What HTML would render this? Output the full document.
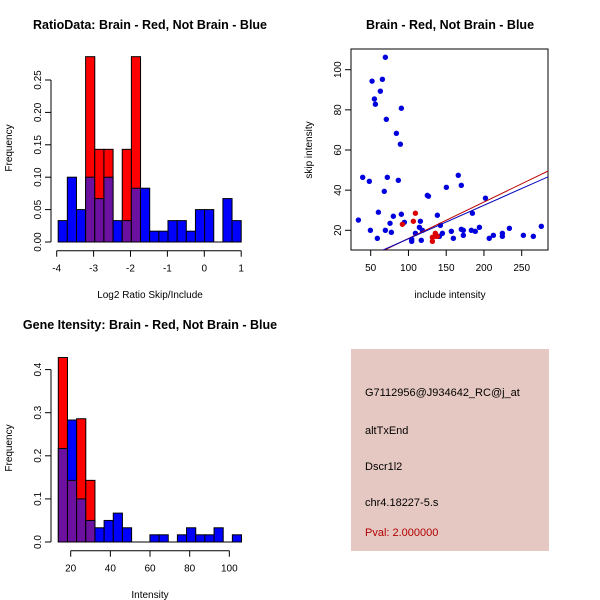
<!DOCTYPE html>
<html><head><meta charset="utf-8"><style>
body{margin:0;background:#fff}
svg{display:block;font-family:"Liberation Sans",sans-serif}
</style></head><body>
<svg id="s" width="600" height="600" xmlns="http://www.w3.org/2000/svg">
<rect width="600" height="600" fill="#fff"/>
<text x="150" y="29" text-anchor="middle" font-size="12.5" font-weight="bold">RatioData: Brain - Red, Not Brain - Blue</text>
<text x="450" y="29" text-anchor="middle" font-size="12.5" font-weight="bold">Brain - Red, Not Brain - Blue</text>
<text x="150" y="329" text-anchor="middle" font-size="12.5" font-weight="bold">Gene Itensity: Brain - Red, Not Brain - Blue</text>
<text x="150" y="298" text-anchor="middle" font-size="10">Log2 Ratio Skip/Include</text>
<text x="450" y="298" text-anchor="middle" font-size="10">include intensity</text>
<text x="150" y="598" text-anchor="middle" font-size="10">Intensity</text>
<text transform="translate(12,148) rotate(-90)" text-anchor="middle" font-size="10">Frequency</text>
<text transform="translate(312,150) rotate(-90)" text-anchor="middle" font-size="10">skip intensity</text>
<text transform="translate(12,448) rotate(-90)" text-anchor="middle" font-size="10">Frequency</text>
<rect x="351" y="349" width="198" height="202" fill="#e6c8c2"/>
<g font-size="11">
<text x="365" y="396">G7112956@J934642_RC@j_at</text>
<text x="365" y="434">altTxEnd</text>
<text x="365" y="470">Dscr1l2</text>
<text x="365" y="506">chr4.18227-5.s</text>
<text x="365" y="536" fill="#b00000">Pval: 2.000000</text>
</g>
</svg>
<script>
const ratioBlue=[0.033,0.1,0.05,0.1,0.067,0.1,0.033,0.033,0.083,0.083,0.0167,0.0167,0.033,0.033,0.0167,0.05,0.05,0,0.067,0.033];
const ratioRed=[0,0,0,0.286,0.143,0.143,0,0.143,0.286,0,0,0,0,0,0,0,0,0,0,0];
const ratioStart=-3.96, ratioWidth=0.248;
const ratioXTicks=[-4,-3,-2,-1,0,1];
const ratioYTicks=[0,0.05,0.1,0.15,0.2,0.25];
const intBlue=[0.217,0.283,0.1,0.05,0.033,0.05,0.067,0.033,0,0,0.0167,0.0167,0,0.0167,0.033,0.0167,0.0167,0.033,0,0.0167];
const intRed=[0.428,0.143,0.286,0.143,0,0,0,0,0,0,0,0,0,0,0,0,0,0,0,0];
const intStart=13.75, intWidth=4.62;
const intXTicks=[20,40,60,80,100];
const intYTicks=[0,0.1,0.2,0.3,0.4];
const blueX=[33.7,39.4,48.2,49.6,51.8,54.9,56.2,58.8,60.2,62.8,65.5,68,69.4,69.4,70.7,72,75.6,77.4,80,84,86.6,89.3,90.6,90.6,94.6,104.3,104.3,109.2,114.5,115.8,117,118.4,125,126.5,138.3,141,142.3,145,150.2,156.8,159.5,166,170,170,172.7,172.7,184.7,183.3,188.6,194,202,207,212.5,224.4,224.4,233.7,252.2,265.4,276];
const blueY=[25.1,46.4,44.4,20,94.3,85.4,82.8,16,29,89.3,95.2,39.4,106.2,20,75.3,46.4,23.5,19,27,68.3,44.9,62.9,28,80.8,24,14.5,15.5,18.5,21.5,24.5,15,20,37.4,37,27.5,17,22.5,18.5,41.4,19.5,16,47.4,42.4,20.5,20,17.5,28.5,20,19.5,21.5,36,16,17.5,18.5,17,21,17.5,17,22];
const redX=[92,106.5,109.2,131.7,131.7,135.6,135.6,138.3];
const redY=[23,24.5,28.5,16.5,14.5,18.5,17,17];
const scXTicks=[50,100,150,200,250];
const scYTicks=[20,40,60,80,100];
const redFit=[-2.24,0.1817], blueFit=[-0.87,0.1667];

const S=document.getElementById('s'),NS='http://www.w3.org/2000/svg';
function mk(t,a,p){const e=document.createElementNS(NS,t);for(const k in a)e.setAttribute(k,a[k]);(p||S).appendChild(e);return e;}
const PURPLE='#6c10a0';
function hist(blue,red,start,w,xt,yt,ox,oy,sx,sy,x0,yl,axisX,axisY,prefix,fmt){
  const X=v=>ox+(v-x0)*sx, Y=v=>oy-v*sy;
  for(let i=0;i<blue.length;i++){
    const a=start+i*w,b=a+w,bl=blue[i],rd=red[i];
    const lo=Math.min(bl,rd),hi=Math.max(bl,rd);
    if(hi>0){const c=(rd>bl)?'#ff0000':'#0000ff';
      const r=mk('rect',{x:X(a),y:Y(hi),width:X(b)-X(a),height:Y(0)-Y(hi),fill:c,stroke:'#000','stroke-width':1});
      
      }
    if(lo>0){const r=mk('rect',{x:X(a),y:Y(lo),width:X(b)-X(a),height:Y(0)-Y(lo),fill:PURPLE,stroke:'#000','stroke-width':1});
      
      }
  }
  mk('line',{x1:axisX,x2:axisX,y1:Y(yt[0]),y2:Y(yt[yt.length-1]),stroke:'#000'});
  yt.forEach(v=>{mk('line',{x1:axisX-6,x2:axisX,y1:Y(v),y2:Y(v),stroke:'#000'});
    const t=mk('text',{transform:`translate(${axisX-10},${Y(v)}) rotate(-90)`,'text-anchor':'middle','font-size':10});t.textContent=fmt(v);
    
    });
  mk('line',{x1:X(xt[0]),x2:X(xt[xt.length-1]),y1:axisY,y2:axisY,stroke:'#000'});
  xt.forEach(v=>{mk('line',{x1:X(v),x2:X(v),y1:axisY,y2:axisY+6,stroke:'#000'});
    const t=mk('text',{x:X(v),y:axisY+21,'text-anchor':'middle','font-size':10});t.textContent=v;
    
    });
  mk('line',{x1:X(start),x2:X(start+w*blue.length),y1:Y(0),y2:Y(0),stroke:'#000'});
}
hist(ratioBlue,ratioRed,ratioStart,ratioWidth,ratioXTicks,ratioYTicks,56.7,242,36.9,648,-4,0,51,250.7,'ratio',v=>v.toFixed(2));
hist(intBlue,intRed,intStart,intWidth,intXTicks,intYTicks,70.7,542,1.983,431,20,0,51,550.7,'intensity',v=>v.toFixed(1));

const SX=v=>370.7+(v-50)*0.755, SY=v=>230.3-(v-20)*2.0075;
const fr=mk('rect',{x:351,y:49,width:197,height:201,fill:'none',stroke:'#000'});


const clip=mk('clipPath',{id:'cp'});mk('rect',{x:351,y:49,width:197,height:201},clip);
const g=mk('g',{'clip-path':'url(#cp)'});
blueX.forEach((x,i)=>{const c=mk('circle',{cx:SX(x),cy:SY(blueY[i]),r:2.7,fill:'#0000dd'},g);
  
  });
redX.forEach((x,i)=>{const c=mk('circle',{cx:SX(x),cy:SY(redY[i]),r:2.7,fill:'#dd0000'},g);
  
  });
[[redFit,'#bb0000','red-fit-line'],[blueFit,'#0000bb','blue-fit-line']].forEach(([f,c,n])=>{
  const l=mk('line',{x1:SX(20),y1:SY(f[0]+f[1]*20),x2:SX(300),y2:SY(f[0]+f[1]*300),stroke:c,'stroke-width':1},g);
  
  });
scXTicks.forEach(v=>{mk('line',{x1:SX(v),x2:SX(v),y1:250,y2:256,stroke:'#000'});
  const t=mk('text',{x:SX(v),y:271,'text-anchor':'middle','font-size':10});t.textContent=v;
  
  });
scYTicks.forEach(v=>{mk('line',{x1:345,x2:351,y1:SY(v),y2:SY(v),stroke:'#000'});
  const t=mk('text',{transform:`translate(341,${SY(v)}) rotate(-90)`,'text-anchor':'middle','font-size':10});t.textContent=v;
  
  });
</script>
</body></html>
